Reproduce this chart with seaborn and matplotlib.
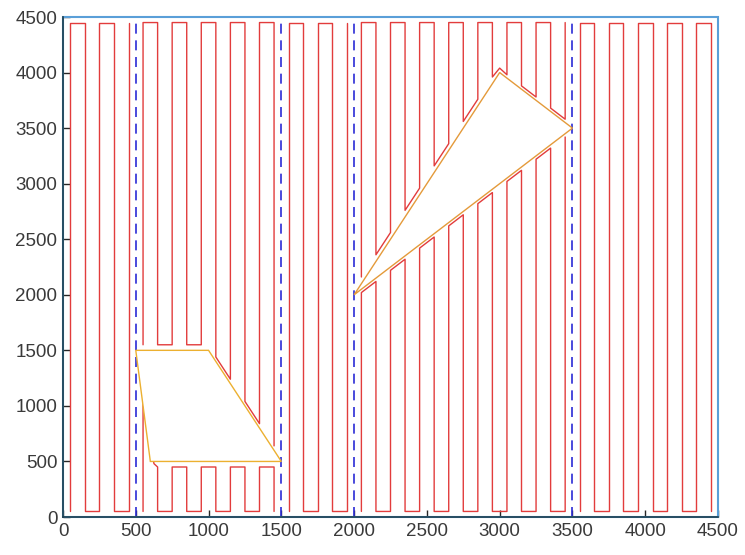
import matplotlib
matplotlib.use("Agg")
import matplotlib.pyplot as plt
import seaborn as sns
import pandas as pd
from matplotlib.patches import Polygon, Rectangle

# ---------------- data ----------------
# cell A (0-500)
a_x = [50, 150, 250, 350, 450]
a_lo = [50, 50, 50, 50, 50]
a_hi = [4450, 4450, 4450, 4450, 4450]
# cell B (500-1500, above trapezoid)
b_x = [550, 650, 750, 850, 950, 1050, 1150, 1250, 1350, 1450]
b_lo = [1550, 1550, 1550, 1550, 1550, 1440, 1240, 1040, 840, 640]
b_hi = [4450, 4450, 4450, 4450, 4450, 4450, 4450, 4450, 4450, 4450]
# cell C (500-1500, below trapezoid)
c_x = [550, 650, 750, 850, 950, 1050, 1150, 1250, 1350, 1450]
c_lo = [50, 50, 50, 50, 50, 50, 50, 50, 50, 50]
c_hi = [1030, 450, 450, 450, 450, 450, 450, 450, 450, 450]
# cell D (1500-2000)
d_x = [1550, 1650, 1750, 1850, 1950]
d_lo = [50, 50, 50, 50, 50]
d_hi = [4450, 4450, 4450, 4450, 4450]
# cell E (2000-3500, above triangle)
e_x = [2050, 2150, 2250, 2350, 2450, 2550, 2650, 2750, 2850, 2950,
       3050, 3150, 3250, 3350, 3450]
e_lo = [2160, 2360, 2560, 2760, 2960, 3160, 3360, 3560, 3760, 3960,
        3980, 3880, 3780, 3680, 3580]
e_hi = [4450] * 15
# cell F (2000-3500, below triangle)
f_x = [2050, 2150, 2250, 2350, 2450, 2550, 2650, 2750, 2850, 2950,
       3050, 3150, 3250, 3350, 3450]
f_lo = [50] * 15
f_hi = [2020, 2120, 2220, 2320, 2420, 2520, 2620, 2720, 2820, 2920,
        3020, 3120, 3220, 3320, 3420]
# cell G (3500-4500)
g_x = [3550, 3650, 3750, 3850, 3950, 4050, 4150, 4250, 4350, 4450]
g_lo = [50] * 10
g_hi = [4450] * 10

# extra corner points inside some turns: {index_after: (x, y)}
c_extra = {0: (625, 480)}
e_extra = {9: (3000, 4040)}

# obstacles
trap_x = [500, 1000, 1500, 600]
trap_y = [1500, 1500, 500, 500]
tri_x = [2000, 3000, 3500]
tri_y = [2000, 4000, 3500]

# cell boundaries (dashed)
bounds_x = [500, 1500, 2000, 3500]

ticks = [0, 500, 1000, 1500, 2000, 2500, 3000, 3500, 4000, 4500]


def build_path(xs, lo, hi, extra=None):
    extra = extra or {}
    px, py = [], []
    for i, x in enumerate(xs):
        if i % 2 == 0:
            px += [x, x]
            py += [lo[i], hi[i]]
        else:
            px += [x, x]
            py += [hi[i], lo[i]]
        if i in extra:
            px.append(extra[i][0])
            py.append(extra[i][1])
    return pd.DataFrame({"x": px, "y": py})


sns.set_theme(style="white")
plt.rcParams["font.family"] = ["Liberation Sans", "DejaVu Sans"]

fig = plt.figure(figsize=(7.45, 5.55), dpi=100)
ax = fig.add_axes([63 / 745, 1 - 517 / 555, 655 / 745, 500 / 555])

red = "#e23c3c"
cells = [
    (a_x, a_lo, a_hi, None),
    (b_x, b_lo, b_hi, None),
    (c_x, c_lo, c_hi, c_extra),
    (d_x, d_lo, d_hi, None),
    (e_x, e_lo, e_hi, e_extra),
    (f_x, f_lo, f_hi, None),
    (g_x, g_lo, g_hi, None),
]
for xs, lo, hi, ex in cells:
    df = build_path(xs, lo, hi, ex)
    sns.lineplot(data=df, x="x", y="y", sort=False, estimator=None,
                 color=red, linewidth=1.0, ax=ax, zorder=2)

for bx in bounds_x:
    ax.plot([bx, bx], [0, 4500], color="#2b2bd6", linestyle=(0, (6, 4)),
            linewidth=1.2, zorder=3)

ax.add_patch(Polygon(list(zip(trap_x, trap_y)), closed=True,
                     facecolor="white", edgecolor="#ecb030",
                     linewidth=1.0, zorder=4))
ax.add_patch(Polygon(list(zip(tri_x, tri_y)), closed=True,
                     facecolor="white", edgecolor="#e49a3a",
                     linewidth=1.0, zorder=4))

ax.add_patch(Rectangle((0, 0), 4500, 4500, fill=False,
                       edgecolor="#5a9fd8", linewidth=1.5,
                       zorder=5, clip_on=False))

ax.set_xlim(0, 4500)
ax.set_ylim(0, 4500)
ax.set_xticks(ticks)
ax.set_yticks(ticks)
ax.set_xlabel("")
ax.set_ylabel("")
for s in ["top", "right"]:
    ax.spines[s].set_visible(False)
for s in ["bottom", "left"]:
    ax.spines[s].set_color("#1f3f4f")
    ax.spines[s].set_linewidth(1.2)
    ax.spines[s].set_zorder(6)
ax.tick_params(direction="in", length=5, width=1, colors="#262626",
               labelsize=13.5, bottom=True, left=True, pad=4)
for lab in ax.get_xticklabels() + ax.get_yticklabels():
    lab.set_color("#3a3a3a")

fig.savefig("out.png", dpi=100)
